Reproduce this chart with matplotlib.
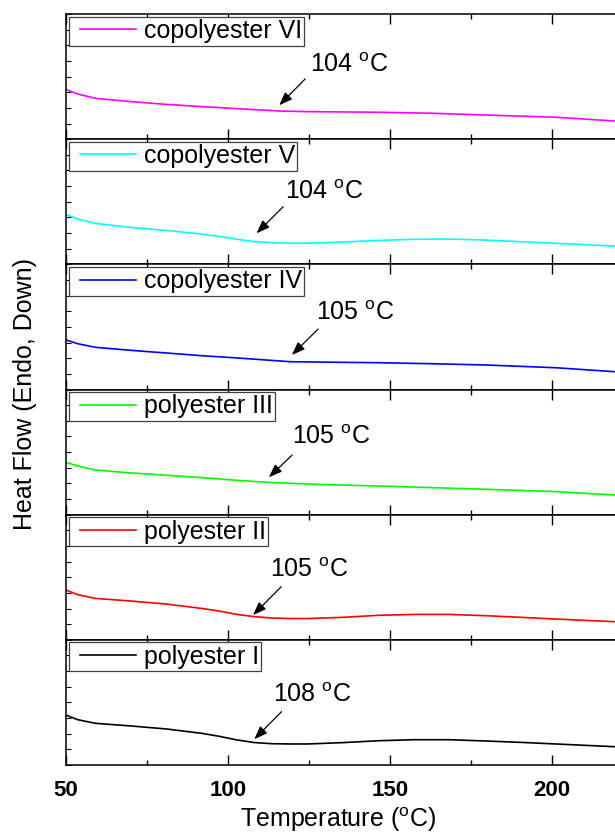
import numpy as np
import matplotlib
matplotlib.use('Agg')
import matplotlib.pyplot as plt
from matplotlib.lines import Line2D
from matplotlib.legend_handler import HandlerLine2D

plt.rcParams['font.family'] = ['Liberation Sans', 'DejaVu Sans']
plt.rcParams['mathtext.fontset'] = 'custom'
plt.rcParams['mathtext.rm'] = 'Liberation Sans'

# DSC traces (normalised heat flow inside each panel), top panel first
names = ['copolyester VI', 'copolyester V', 'copolyester IV',
         'polyester III', 'polyester II', 'polyester I']
colors = ['#ff00ff', '#00ffff', '#0000ff', '#00ff00', '#ff0000', '#000000']

temp_VI = [50, 53.6, 59.1, 70.0, 80.9, 91.9, 102.8, 115.9, 124.6, 146.5, 162.9, 179.3, 201.1, 219.4]
hf_VI = [0.398, 0.361, 0.326, 0.300, 0.278, 0.260, 0.244, 0.225, 0.220, 0.215, 0.207, 0.193, 0.175, 0.145]

temp_V = [50, 53.6, 59.1, 70.0, 80.9, 91.9, 97.3, 102.8, 108.2, 113.7, 119.2, 124.6, 135.6,
          146.5, 157.4, 168.3, 179.3, 190.2, 201.1, 219.4]
hf_V = [0.399, 0.362, 0.327, 0.295, 0.271, 0.242, 0.223, 0.200, 0.181, 0.173, 0.169, 0.169, 0.178,
        0.191, 0.200, 0.202, 0.194, 0.181, 0.168, 0.146]

temp_IV = [50, 53.6, 59.1, 70.0, 75.5, 80.9, 91.9, 102.8, 119.2, 135.6, 146.5, 162.9, 179.3, 201.1, 219.4]
hf_IV = [0.396, 0.366, 0.337, 0.313, 0.302, 0.292, 0.270, 0.252, 0.222, 0.217, 0.214, 0.206, 0.196, 0.174, 0.142]

temp_III = [50, 53.6, 59.1, 70.0, 75.5, 80.9, 91.9, 102.8, 113.7, 130.1, 146.5, 162.9, 179.3, 201.1, 219.4]
hf_III = [0.418, 0.389, 0.357, 0.333, 0.325, 0.315, 0.296, 0.274, 0.256, 0.240, 0.229, 0.216, 0.203, 0.184, 0.157]

temp_II = [50, 53.6, 59.1, 70.0, 80.9, 91.9, 97.3, 102.8, 108.2, 113.7, 119.2, 124.6, 135.6,
           146.5, 157.4, 168.3, 179.3, 190.2, 201.1, 219.4]
hf_II = [0.398, 0.361, 0.331, 0.310, 0.286, 0.251, 0.230, 0.203, 0.185, 0.174, 0.170, 0.170, 0.180,
         0.196, 0.203, 0.203, 0.193, 0.180, 0.166, 0.145]

temp_I = [50, 53.6, 59.1, 70.0, 80.9, 91.9, 97.3, 102.8, 108.2, 113.7, 119.2, 124.6, 135.6,
          146.5, 157.4, 168.3, 179.3, 190.2, 201.1, 219.4]
hf_I = [0.399, 0.362, 0.333, 0.312, 0.288, 0.253, 0.229, 0.200, 0.179, 0.170, 0.168, 0.168, 0.179,
        0.194, 0.202, 0.202, 0.192, 0.181, 0.168, 0.146]

temps = [temp_VI, temp_V, temp_IV, temp_III, temp_II, temp_I]
flows = [hf_VI, hf_V, hf_IV, hf_III, hf_II, hf_I]

# glass transitions and their arrows (tail, head) + label anchor
tg_labels = ['104', '104', '105', '105', '105', '108']
arrow_tail = [(123.8, 0.481), (117.0, 0.460), (127.8, 0.483), (119.8, 0.477), (116.4, 0.424), (116.5, 0.426)]
arrow_head = [(115.8, 0.271), (108.8, 0.248), (119.7, 0.276), (112.6, 0.299), (107.7, 0.198), (108.1, 0.206)]
label_pos = [(125.3, 0.539), (117.6, 0.522), (127.2, 0.555), (119.8, 0.565), (113.0, 0.502), (113.9, 0.503)]

fig = plt.figure(figsize=(6.15, 8.34), dpi=100)
fig.subplots_adjust(left=66/615., right=1.0, top=1-14/834., bottom=1-765/834., hspace=0)
axes = fig.subplots(6, 1, sharex=True)

for i, ax in enumerate(axes):
    ax.plot(temps[i], flows[i], color=colors[i], lw=1.2, label=names[i])
    ax.set_yticks(np.arange(0, 1.01, 0.125))
    ax.set_yticklabels([])
    ax.set_xticks([50, 100, 150, 200])
    ax.set_xticks([75, 125, 175], minor=True)
    ax.set_xlim(50, 219.4)
    ax.set_ylim(0, 1)
    ax.tick_params(axis='y', direction='in', length=3.5, width=0.8)
    ax.tick_params(axis='x', which='major', direction='in', length=7, width=1, top=True)
    ax.tick_params(axis='x', which='minor', direction='in', length=3.5, width=1, top=True)
    for s in ['left', 'top', 'bottom']:
        ax.spines[s].set_linewidth(1.1)
    ax.spines['right'].set_visible(False)

    leg = ax.legend(loc='upper left', fontsize=18, fancybox=False, framealpha=1,
                    edgecolor='#404040', borderpad=0.1, borderaxespad=0.1,
                    handlelength=2.58, handletextpad=0.32,
                    handler_map={Line2D: HandlerLine2D(xpad=0.34)})
    leg.get_frame().set_linewidth(0.9)

    ax.annotate('', xy=arrow_head[i], xytext=arrow_tail[i],
                arrowprops=dict(arrowstyle='-|>,head_length=0.8,head_width=0.3',
                                mutation_scale=10, color='k', lw=0.9,
                                shrinkA=0, shrinkB=0))
    ax.text(label_pos[i][0], label_pos[i][1], tg_labels[i] + r' $^\mathregular{o}$C',
            fontsize=18, ha='left', va='baseline')

for ax in axes[:-1]:
    ax.tick_params(axis='x', labelbottom=False)
axes[-1].tick_params(axis='x', which='major', pad=10.5, labelsize=16)
for lab in axes[-1].get_xticklabels():
    lab.set_fontweight('bold')

fig.text(338/615., 7/834., r'Temperature ($^\mathregular{o}$C)', fontsize=18,
         ha='center', va='baseline')
fig.text(25/615., 1-394/834., 'Heat Flow (Endo, Down)', fontsize=18,
         rotation=90, ha='center', va='center')

plt.savefig('out.png', dpi=100)
